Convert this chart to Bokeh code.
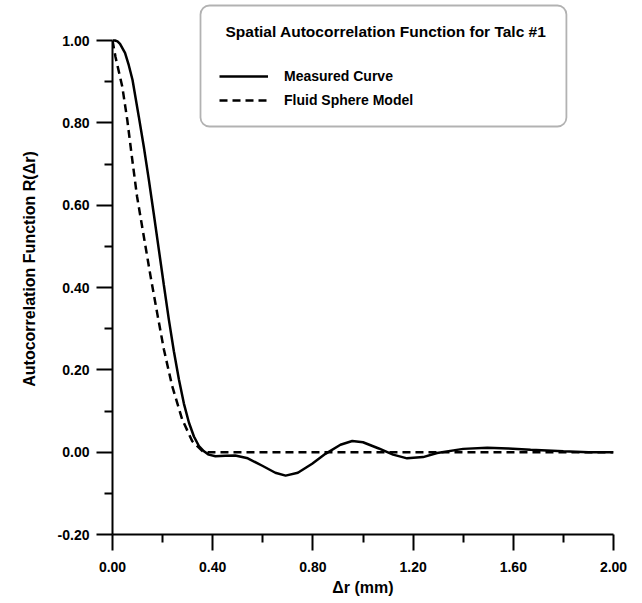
from bokeh.plotting import figure
from bokeh.models import (Range1d, FixedTicker, NumeralTickFormatter, Legend,
                          LegendItem, BoxAnnotation, Label)
from bokeh.embed import file_html
from bokeh.resources import INLINE

# ---- data ----
measured_x = [0.0, 0.01, 0.02, 0.03, 0.05, 0.065, 0.08, 0.105, 0.125, 0.145, 0.165,
              0.185, 0.205, 0.225, 0.245, 0.265, 0.285, 0.305, 0.325, 0.345, 0.365,
              0.384, 0.411, 0.45, 0.49, 0.54, 0.598, 0.65, 0.691, 0.74, 0.797,
              0.85, 0.91, 0.957, 1.0, 1.063, 1.12, 1.176, 1.24, 1.296, 1.40,
              1.496, 1.58, 1.669, 1.80, 1.90, 2.0]
measured_y = [1.0, 1.0, 0.998, 0.992, 0.97, 0.94, 0.904, 0.815, 0.742, 0.662, 0.578,
              0.492, 0.406, 0.322, 0.245, 0.177, 0.118, 0.072, 0.038, 0.015, 0.002,
              -0.006, -0.010, -0.009, -0.008, -0.015, -0.033, -0.050, -0.057, -0.050,
              -0.028, -0.004, 0.018, 0.027, 0.024, 0.009, -0.006, -0.015, -0.012,
              -0.002, 0.008, 0.011, 0.009, 0.006, 0.002, 0.0, 0.0]

model_x = [0.0, 0.012, 0.039, 0.059, 0.079, 0.098, 0.125, 0.152, 0.178, 0.205,
           0.238, 0.278, 0.318, 0.358, 0.38, 2.0]
model_y = [1.0, 0.96, 0.888, 0.807, 0.71, 0.621, 0.524, 0.427, 0.339, 0.25,
           0.161, 0.08, 0.027, 0.003, 0.0, 0.0]

x_major_ticks = [0.0, 0.4, 0.8, 1.2, 1.6, 2.0]
x_minor_ticks = [0.2, 0.6, 1.0, 1.4, 1.8]
y_major_ticks = [-0.2, 0.0, 0.2, 0.4, 0.6, 0.8, 1.0]
y_minor_ticks = [-0.1, 0.1, 0.3, 0.5, 0.7, 0.9]

legend_title = "Spatial Autocorrelation Function for Talc #1"
series_names = ["Measured Curve", "Fluid Sphere Model"]
x_label = "\u0394r (mm)"
y_label = "Autocorrelation Function R(\u0394r)"

FONT = "Liberation Sans"

p = figure(width=642, height=603, output_backend="svg", toolbar_location=None,
           x_range=Range1d(0.0, 2.0), y_range=Range1d(-0.2, 1.0899),
           min_border_left=112, min_border_right=29, min_border_top=3,
           min_border_bottom=69)
p.outline_line_color = None
p.xgrid.visible = False
p.ygrid.visible = False
p.background_fill_color = "white"
p.border_fill_color = "white"

r_meas = p.line(measured_x, measured_y, line_color="black", line_width=2.5)
r_model = p.line(model_x, model_y, line_color="black", line_width=2.5,
                 line_dash="8 5")

for ax in (p.xaxis[0], p.yaxis[0]):
    ax.axis_line_width = 2
    ax.axis_line_color = "black"
    ax.major_tick_line_width = 2
    ax.minor_tick_line_width = 2
    ax.major_tick_in = 0
    ax.minor_tick_in = 0
    ax.major_tick_out = 16
    ax.minor_tick_out = 8
    ax.major_label_text_font = FONT
    ax.major_label_text_font_style = "bold"
    ax.major_label_text_font_size = "14px"
    ax.major_label_text_color = "black"
    ax.axis_label_text_font = FONT
    ax.axis_label_text_font_style = "bold"
    ax.axis_label_text_font_size = "16px"
    ax.axis_label_text_color = "black"
    ax.formatter = NumeralTickFormatter(format="0.00")

p.xaxis[0].ticker = FixedTicker(ticks=x_major_ticks, minor_ticks=x_minor_ticks)
p.yaxis[0].ticker = FixedTicker(ticks=y_major_ticks, minor_ticks=y_minor_ticks)
p.yaxis[0].bounds = (-0.2, 1.0)
p.xaxis[0].axis_label = x_label
p.yaxis[0].axis_label = y_label
p.xaxis[0].major_label_standoff = 11
p.xaxis[0].axis_label_standoff = 4
p.yaxis[0].major_label_standoff = 7
p.yaxis[0].axis_label_standoff = 17

box = BoxAnnotation(left=0.3513, right=1.812, bottom=0.7911, top=1.085,
                    fill_color="white", fill_alpha=1.0, line_color="black",
                    line_width=1.8, border_radius=9)
p.add_layout(box)

title_label = Label(x=0.451, y=1.0219, text=legend_title,
                    text_font=FONT, text_font_style="bold",
                    text_font_size="15.5px", text_color="black",
                    text_baseline="middle", text_align="left")
p.add_layout(title_label)

legend = Legend(items=[LegendItem(label=series_names[0], renderers=[r_meas]),
                       LegendItem(label=series_names[1], renderers=[r_model])],
                location=(107, 424),
                label_text_font=FONT, label_text_font_style="bold",
                label_text_font_size="14px", label_text_color="black",
                label_standoff=16,
                glyph_width=49, glyph_height=20, label_height=20, spacing=4,
                padding=0, margin=0, border_line_color=None,
                background_fill_alpha=0)
p.add_layout(legend)

open("out.html", "w").write(file_html(p, INLINE))
